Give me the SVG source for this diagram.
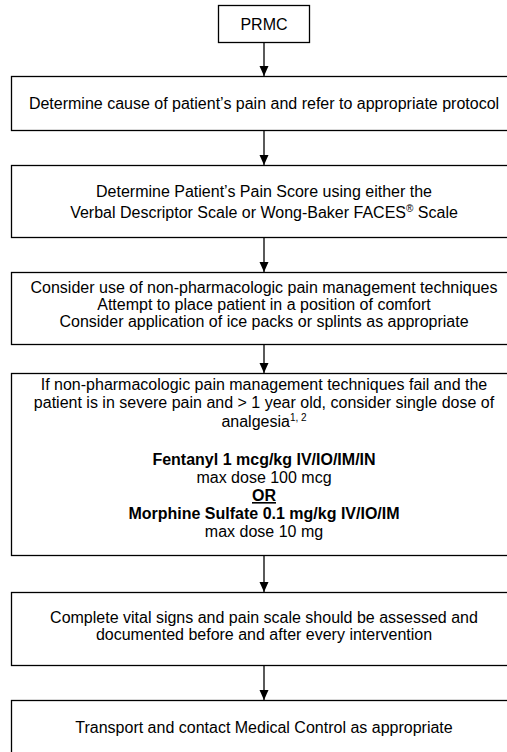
<svg xmlns="http://www.w3.org/2000/svg" width="507" height="752" viewBox="0 0 507 752">
<style>
.box{fill:#fff;stroke:#000;stroke-width:1.3}
.t{font-family:"Liberation Sans",Arial,sans-serif;font-size:16px;fill:#000;text-anchor:middle}
.b{font-weight:bold}
.edge{stroke:#000;stroke-width:1.3;fill:none;marker-end:url(#ah)}
</style>
<defs>
<marker id="ah" markerUnits="userSpaceOnUse" markerWidth="10" markerHeight="10" viewBox="0 0 10 10" refX="10" refY="5" orient="auto">
<path d="M0,0.5 L10,5 L0,9.5 Z" fill="#000"/>
</marker>
</defs>
<rect width="507" height="752" fill="#fff"/>
<g id="connectors">
<line class="edge" x1="264" y1="42.5" x2="264" y2="76"/>
<line class="edge" x1="264" y1="130.5" x2="264" y2="165"/>
<line class="edge" x1="264" y1="237.5" x2="264" y2="272"/>
<line class="edge" x1="264" y1="344.5" x2="264" y2="373"/>
<line class="edge" x1="264" y1="555.5" x2="264" y2="592"/>
<line class="edge" x1="264" y1="665.5" x2="264" y2="700"/>
</g>
<g id="n1">
<rect class="box" x="218.5" y="5.5" width="91" height="37"/>
<text class="t" x="264" y="29.5">PRMC</text>
</g>
<g id="n2">
<rect class="box" x="11.5" y="76.5" width="505" height="54"/>
<text class="t" x="264" y="109">Determine cause of patient’s pain and refer to appropriate protocol</text>
</g>
<g id="n3">
<rect class="box" x="11.5" y="165.5" width="505" height="72"/>
<text class="t" x="264" y="197">Determine Patient’s Pain Score using either the</text>
<text class="t" x="264" y="218">Verbal Descriptor Scale or Wong-Baker FACES<tspan font-size="10" dy="-6">®</tspan><tspan dy="6"> Scale</tspan></text>
</g>
<g id="n4">
<rect class="box" x="11.5" y="272.5" width="505" height="72"/>
<text class="t" x="264" y="293">Consider use of non-pharmacologic pain management techniques</text>
<text class="t" x="264" y="310">Attempt to place patient in a position of comfort</text>
<text class="t" x="264" y="327">Consider application of ice packs or splints as appropriate</text>
</g>
<g id="n5">
<rect class="box" x="11.5" y="373.5" width="505" height="182"/>
<text class="t" x="264" y="390">If non-pharmacologic pain management techniques fail and the</text>
<text class="t" x="264" y="408">patient is in severe pain and &gt; 1 year old, consider single dose of</text>
<text class="t" x="264" y="427">analgesia<tspan font-size="10" dy="-6">1, 2</tspan></text>
<text class="t b" x="264" y="465">Fentanyl 1 mcg/kg IV/IO/IM/IN</text>
<text class="t" x="264" y="483">max dose 100 mcg</text>
<text class="t b" x="264" y="501" text-decoration="underline">OR</text>
<text class="t b" x="264" y="519">Morphine Sulfate 0.1 mg/kg IV/IO/IM</text>
<text class="t" x="264" y="537">max dose 10 mg</text>
</g>
<g id="n6">
<rect class="box" x="11.5" y="592.5" width="505" height="73"/>
<text class="t" x="264" y="623">Complete vital signs and pain scale should be assessed and</text>
<text class="t" x="264" y="640">documented before and after every intervention</text>
</g>
<g id="n7">
<rect class="box" x="11.5" y="700.5" width="505" height="80"/>
<text class="t" x="264" y="733">Transport and contact Medical Control as appropriate</text>
</g>
</svg>
